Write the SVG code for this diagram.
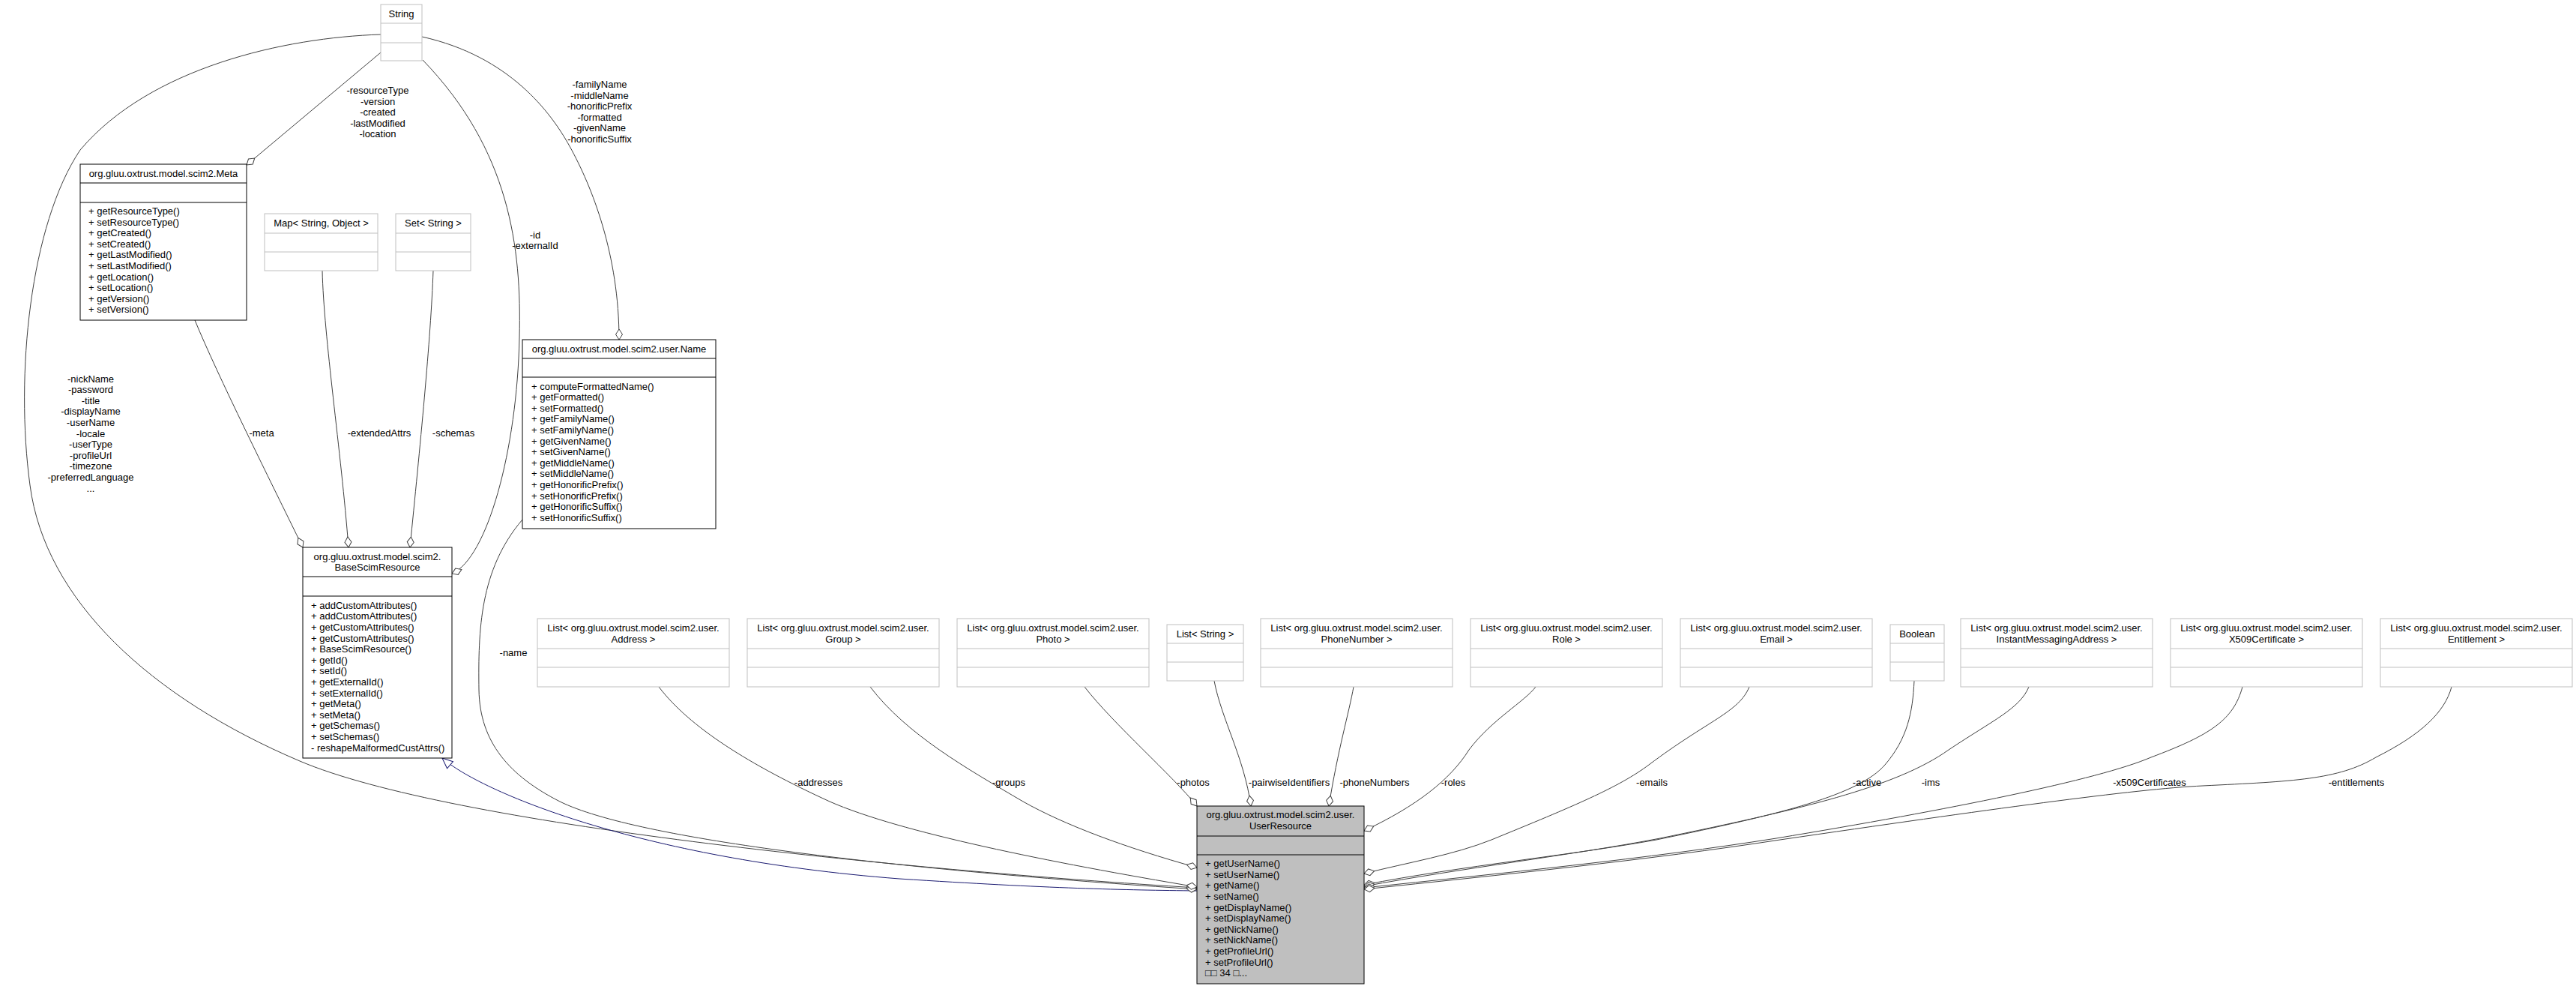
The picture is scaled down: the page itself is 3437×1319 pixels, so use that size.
<svg xmlns="http://www.w3.org/2000/svg" width="3437" height="1319" viewBox="0 0 3437 1319">
<style>
text{font-family:"Liberation Sans",Arial,sans-serif;font-size:13px;fill:#000}
.c{text-anchor:middle}
.doc{fill:#fff;stroke:#000;stroke-width:1}
.ext{fill:#fff;stroke:#bfbfbf;stroke-width:1}
.sel{fill:#bfbfbf;stroke:#000;stroke-width:1}
.sd{stroke:#000;stroke-width:1}
.sx{stroke:#bfbfbf;stroke-width:1}
.e{fill:none;stroke:#404040;stroke-width:1;marker-start:url(#dia)}
.inh{fill:none;stroke:#191970;stroke-width:1;marker-start:url(#tri)}
</style>
<defs>
<marker id="dia" markerUnits="userSpaceOnUse" markerWidth="16" markerHeight="12" refX="0" refY="0" orient="auto" overflow="visible"><path d="M0,0 L7,-4.5 L14,0 L7,4.5 Z" fill="#fff" stroke="#404040"/></marker>
<marker id="tri" markerUnits="userSpaceOnUse" markerWidth="16" markerHeight="14" refX="0" refY="0" orient="auto" overflow="visible"><path d="M0,0 L14,-6 L14,6 Z" fill="#fff" stroke="#191970"/></marker>
</defs>
<rect width="3437" height="1319" fill="#fff"/>

<g id="connectors">
<path id="e-nick" class="e" d="M1597,1184 C1200,1160 600,1100 400,1015 C200,930 60,800 40,647 C20,500 40,300 107,200 C200,90 380,50 508,46"/>
<path id="e-meta-str" class="e" d="M329,220 L508,70"/>
<path id="e-base-str" class="e" d="M603,765 C650,745 690,600 693,450 C696,330 680,200 564,80"/>
<path id="e-name-str" class="e" d="M826,453 C826,340 790,249 760,195 C735,150 680,75 563,49"/>
<path id="e-meta" class="e" d="M404,730 C360,640 290,500 260,427"/>
<path id="e-ext" class="e" d="M465,730 C455,600 432,450 430,361"/>
<path id="e-sch" class="e" d="M547,730 C560,600 575,450 578,361"/>
<path id="e-inh" class="inh" d="M590,1011 C640,1055 850,1145 1200,1172 C1400,1185 1500,1187 1597,1188"/>
<path id="e-name" class="e" d="M1597,1186 C1200,1160 850,1120 747,1069 C680,1035 640,990 639,920 C638,840 640,760 697,693"/>
<path id="e-addr" class="e" d="M1597,1183 C1400,1150 1200,1110 1107,1069 C1000,1020 920,970 879,916"/>
<path id="e-grp" class="e" d="M1597,1157 C1500,1130 1420,1100 1365,1069 C1290,1025 1210,980 1161,916"/>
<path id="e-photo" class="e" d="M1597,1075 C1565,1035 1485,965 1447,916"/>
<path id="e-pair" class="e" d="M1669,1075 C1660,1010 1630,960 1620,908"/>
<path id="e-phone" class="e" d="M1773,1075 C1785,1000 1800,950 1806,916"/>
<path id="e-roles" class="e" d="M1820,1108 C1890,1075 1935,1040 1960,1000 C1990,960 2035,935 2049,916"/>
<path id="e-emails" class="e" d="M1820,1165 C1880,1150 1940,1140 1990,1120 C2100,1075 2160,1050 2200,1020 C2280,960 2320,950 2334,916"/>
<path id="e-active" class="e" d="M1820,1180 C1950,1155 2100,1140 2210,1120 C2380,1085 2480,1060 2515,1020 C2545,985 2552,950 2554,908"/>
<path id="e-ims" class="e" d="M1820,1182 C1950,1158 2100,1140 2215,1118 C2400,1080 2530,1050 2600,1000 C2660,960 2695,945 2707,916"/>
<path id="e-x509" class="e" d="M1820,1184 C2000,1165 2200,1145 2370,1118 C2600,1080 2800,1040 2870,1010 C2950,980 2980,960 2992,916"/>
<path id="e-ent" class="e" d="M1820,1186 C2000,1167 2200,1147 2375,1120 C2650,1080 2850,1052 2939,1048 C3060,1042 3120,1040 3170,1010 C3230,980 3262,950 3271,916"/>
</g>

<g id="edge-labels">
<text class="c" x="121"><tspan x="121" y="509.5">-nickName</tspan><tspan x="121" dy="14.6">-password</tspan><tspan x="121" dy="14.6">-title</tspan><tspan x="121" dy="14.6">-displayName</tspan><tspan x="121" dy="14.6">-userName</tspan><tspan x="121" dy="14.6">-locale</tspan><tspan x="121" dy="14.6">-userType</tspan><tspan x="121" dy="14.6">-profileUrl</tspan><tspan x="121" dy="14.6">-timezone</tspan><tspan x="121" dy="14.6">-preferredLanguage</tspan><tspan x="121" dy="14.6">...</tspan></text>
<text class="c"><tspan x="504" y="125">-resourceType</tspan><tspan x="504" dy="14.6">-version</tspan><tspan x="504" dy="14.6">-created</tspan><tspan x="504" dy="14.6">-lastModified</tspan><tspan x="504" dy="14.6">-location</tspan></text>
<text class="c"><tspan x="800" y="117">-familyName</tspan><tspan x="800" dy="14.6">-middleName</tspan><tspan x="800" dy="14.6">-honorificPrefix</tspan><tspan x="800" dy="14.6">-formatted</tspan><tspan x="800" dy="14.6">-givenName</tspan><tspan x="800" dy="14.6">-honorificSuffix</tspan></text>
<text class="c"><tspan x="714" y="317.5">-id</tspan><tspan x="714" dy="14.6">-externalId</tspan></text>
<text class="c" x="349" y="582">-meta</text>
<text class="c" x="506" y="582">-extendedAttrs</text>
<text class="c" x="605" y="582">-schemas</text>
<text class="c" x="685" y="874.5">-name</text>
<text class="c" x="1092" y="1047.5">-addresses</text>
<text class="c" x="1346" y="1047.5">-groups</text>
<text class="c" x="1592" y="1047.5">-photos</text>
<text class="c" x="1720" y="1047.5">-pairwiseIdentifiers</text>
<text class="c" x="1834" y="1047.5">-phoneNumbers</text>
<text class="c" x="1939" y="1047.5">-roles</text>
<text class="c" x="2204" y="1047.5">-emails</text>
<text class="c" x="2491" y="1047.5">-active</text>
<text class="c" x="2576" y="1047.5">-ims</text>
<text class="c" x="2868" y="1047.5">-x509Certificates</text>
<text class="c" x="3144" y="1047.5">-entitlements</text>
</g>

<g id="node-String">
<rect class="ext" x="508" y="6" width="55" height="75"/>
<line class="sx" x1="508" y1="31" x2="563" y2="31"/><line class="sx" x1="508" y1="57" x2="563" y2="57"/>
<text class="c" x="535.5" y="23">String</text>
</g>

<g id="node-Meta">
<rect class="doc" x="107" y="219" width="222" height="208"/>
<line class="sd" x1="107" y1="244" x2="329" y2="244"/><line class="sd" x1="107" y1="270" x2="329" y2="270"/>
<text class="c" x="218" y="236">org.gluu.oxtrust.model.scim2.Meta</text>
<text><tspan x="118" y="286">+ getResourceType()</tspan><tspan x="118" dy="14.6">+ setResourceType()</tspan><tspan x="118" dy="14.6">+ getCreated()</tspan><tspan x="118" dy="14.6">+ setCreated()</tspan><tspan x="118" dy="14.6">+ getLastModified()</tspan><tspan x="118" dy="14.6">+ setLastModified()</tspan><tspan x="118" dy="14.6">+ getLocation()</tspan><tspan x="118" dy="14.6">+ setLocation()</tspan><tspan x="118" dy="14.6">+ getVersion()</tspan><tspan x="118" dy="14.6">+ setVersion()</tspan></text>
</g>

<g id="node-Map">
<rect class="ext" x="353" y="285" width="151" height="76"/>
<line class="sx" x1="353" y1="311" x2="504" y2="311"/><line class="sx" x1="353" y1="336" x2="504" y2="336"/>
<text class="c" x="428.5" y="302">Map&lt; String, Object &gt;</text>
</g>

<g id="node-Set">
<rect class="ext" x="528" y="285" width="100" height="76"/>
<line class="sx" x1="528" y1="311" x2="628" y2="311"/><line class="sx" x1="528" y1="336" x2="628" y2="336"/>
<text class="c" x="578" y="302">Set&lt; String &gt;</text>
</g>

<g id="node-Name">
<rect class="doc" x="697" y="453" width="258" height="252"/>
<line class="sd" x1="697" y1="478" x2="955" y2="478"/><line class="sd" x1="697" y1="503" x2="955" y2="503"/>
<text class="c" x="826" y="470">org.gluu.oxtrust.model.scim2.user.Name</text>
<text><tspan x="709" y="519.5">+ computeFormattedName()</tspan><tspan x="709" dy="14.6">+ getFormatted()</tspan><tspan x="709" dy="14.6">+ setFormatted()</tspan><tspan x="709" dy="14.6">+ getFamilyName()</tspan><tspan x="709" dy="14.6">+ setFamilyName()</tspan><tspan x="709" dy="14.6">+ getGivenName()</tspan><tspan x="709" dy="14.6">+ setGivenName()</tspan><tspan x="709" dy="14.6">+ getMiddleName()</tspan><tspan x="709" dy="14.6">+ setMiddleName()</tspan><tspan x="709" dy="14.6">+ getHonorificPrefix()</tspan><tspan x="709" dy="14.6">+ setHonorificPrefix()</tspan><tspan x="709" dy="14.6">+ getHonorificSuffix()</tspan><tspan x="709" dy="14.6">+ setHonorificSuffix()</tspan></text>
</g>

<g id="node-BaseScimResource">
<rect class="doc" x="404" y="730" width="199" height="281"/>
<line class="sd" x1="404" y1="769" x2="603" y2="769"/><line class="sd" x1="404" y1="795" x2="603" y2="795"/>
<text class="c"><tspan x="503.5" y="746.7">org.gluu.oxtrust.model.scim2.</tspan><tspan x="503.5" dy="14.6">BaseScimResource</tspan></text>
<text><tspan x="415" y="811.8">+ addCustomAttributes()</tspan><tspan x="415" dy="14.6">+ addCustomAttributes()</tspan><tspan x="415" dy="14.6">+ getCustomAttributes()</tspan><tspan x="415" dy="14.6">+ getCustomAttributes()</tspan><tspan x="415" dy="14.6">+ BaseScimResource()</tspan><tspan x="415" dy="14.6">+ getId()</tspan><tspan x="415" dy="14.6">+ setId()</tspan><tspan x="415" dy="14.6">+ getExternalId()</tspan><tspan x="415" dy="14.6">+ setExternalId()</tspan><tspan x="415" dy="14.6">+ getMeta()</tspan><tspan x="415" dy="14.6">+ setMeta()</tspan><tspan x="415" dy="14.6">+ getSchemas()</tspan><tspan x="415" dy="14.6">+ setSchemas()</tspan><tspan x="415" dy="14.6">- reshapeMalformedCustAttrs()</tspan></text>
</g>

<g id="node-ListAddress">
<rect class="ext" x="717" y="825" width="256" height="91"/>
<line class="sx" x1="717" y1="865" x2="973" y2="865"/><line class="sx" x1="717" y1="890" x2="973" y2="890"/>
<text class="c"><tspan x="845" y="842.2">List&lt; org.gluu.oxtrust.model.scim2.user.</tspan><tspan x="845" dy="14.6">Address &gt;</tspan></text>
</g>
<g id="node-ListGroup">
<rect class="ext" x="997" y="825" width="256" height="91"/>
<line class="sx" x1="997" y1="865" x2="1253" y2="865"/><line class="sx" x1="997" y1="890" x2="1253" y2="890"/>
<text class="c"><tspan x="1125" y="842.2">List&lt; org.gluu.oxtrust.model.scim2.user.</tspan><tspan x="1125" dy="14.6">Group &gt;</tspan></text>
</g>
<g id="node-ListPhoto">
<rect class="ext" x="1277" y="825" width="256" height="91"/>
<line class="sx" x1="1277" y1="865" x2="1533" y2="865"/><line class="sx" x1="1277" y1="890" x2="1533" y2="890"/>
<text class="c"><tspan x="1405" y="842.2">List&lt; org.gluu.oxtrust.model.scim2.user.</tspan><tspan x="1405" dy="14.6">Photo &gt;</tspan></text>
</g>
<g id="node-ListString">
<rect class="ext" x="1557" y="833" width="102" height="75"/>
<line class="sx" x1="1557" y1="858" x2="1659" y2="858"/><line class="sx" x1="1557" y1="883" x2="1659" y2="883"/>
<text class="c" x="1608" y="850">List&lt; String &gt;</text>
</g>
<g id="node-ListPhoneNumber">
<rect class="ext" x="1682" y="825" width="256" height="91"/>
<line class="sx" x1="1682" y1="865" x2="1938" y2="865"/><line class="sx" x1="1682" y1="890" x2="1938" y2="890"/>
<text class="c"><tspan x="1810" y="842.2">List&lt; org.gluu.oxtrust.model.scim2.user.</tspan><tspan x="1810" dy="14.6">PhoneNumber &gt;</tspan></text>
</g>
<g id="node-ListRole">
<rect class="ext" x="1962" y="825" width="256" height="91"/>
<line class="sx" x1="1962" y1="865" x2="2218" y2="865"/><line class="sx" x1="1962" y1="890" x2="2218" y2="890"/>
<text class="c"><tspan x="2090" y="842.2">List&lt; org.gluu.oxtrust.model.scim2.user.</tspan><tspan x="2090" dy="14.6">Role &gt;</tspan></text>
</g>
<g id="node-ListEmail">
<rect class="ext" x="2242" y="825" width="256" height="91"/>
<line class="sx" x1="2242" y1="865" x2="2498" y2="865"/><line class="sx" x1="2242" y1="890" x2="2498" y2="890"/>
<text class="c"><tspan x="2370" y="842.2">List&lt; org.gluu.oxtrust.model.scim2.user.</tspan><tspan x="2370" dy="14.6">Email &gt;</tspan></text>
</g>
<g id="node-Boolean">
<rect class="ext" x="2522" y="833" width="72" height="75"/>
<line class="sx" x1="2522" y1="858" x2="2594" y2="858"/><line class="sx" x1="2522" y1="883" x2="2594" y2="883"/>
<text class="c" x="2558" y="850">Boolean</text>
</g>
<g id="node-ListIMAddress">
<rect class="ext" x="2616" y="825" width="256" height="91"/>
<line class="sx" x1="2616" y1="865" x2="2872" y2="865"/><line class="sx" x1="2616" y1="890" x2="2872" y2="890"/>
<text class="c"><tspan x="2744" y="842.2">List&lt; org.gluu.oxtrust.model.scim2.user.</tspan><tspan x="2744" dy="14.6">InstantMessagingAddress &gt;</tspan></text>
</g>
<g id="node-ListX509">
<rect class="ext" x="2896" y="825" width="256" height="91"/>
<line class="sx" x1="2896" y1="865" x2="3152" y2="865"/><line class="sx" x1="2896" y1="890" x2="3152" y2="890"/>
<text class="c"><tspan x="3024" y="842.2">List&lt; org.gluu.oxtrust.model.scim2.user.</tspan><tspan x="3024" dy="14.6">X509Certificate &gt;</tspan></text>
</g>
<g id="node-ListEntitlement">
<rect class="ext" x="3176" y="825" width="256" height="91"/>
<line class="sx" x1="3176" y1="865" x2="3432" y2="865"/><line class="sx" x1="3176" y1="890" x2="3432" y2="890"/>
<text class="c"><tspan x="3304" y="842.2">List&lt; org.gluu.oxtrust.model.scim2.user.</tspan><tspan x="3304" dy="14.6">Entitlement &gt;</tspan></text>
</g>

<g id="node-UserResource">
<rect class="sel" x="1597" y="1075" width="223" height="237"/>
<line class="sd" x1="1597" y1="1115" x2="1820" y2="1115"/><line class="sd" x1="1597" y1="1140" x2="1820" y2="1140"/>
<text class="c"><tspan x="1708.5" y="1091.2">org.gluu.oxtrust.model.scim2.user.</tspan><tspan x="1708.5" dy="14.6">UserResource</tspan></text>
<text><tspan x="1608" y="1156.2">+ getUserName()</tspan><tspan x="1608" dy="14.6">+ setUserName()</tspan><tspan x="1608" dy="14.6">+ getName()</tspan><tspan x="1608" dy="14.6">+ setName()</tspan><tspan x="1608" dy="14.6">+ getDisplayName()</tspan><tspan x="1608" dy="14.6">+ setDisplayName()</tspan><tspan x="1608" dy="14.6">+ getNickName()</tspan><tspan x="1608" dy="14.6">+ setNickName()</tspan><tspan x="1608" dy="14.6">+ getProfileUrl()</tspan><tspan x="1608" dy="14.6">+ setProfileUrl()</tspan><tspan x="1608" dy="14.6">□□ 34 □...</tspan></text>
</g>
</svg>
